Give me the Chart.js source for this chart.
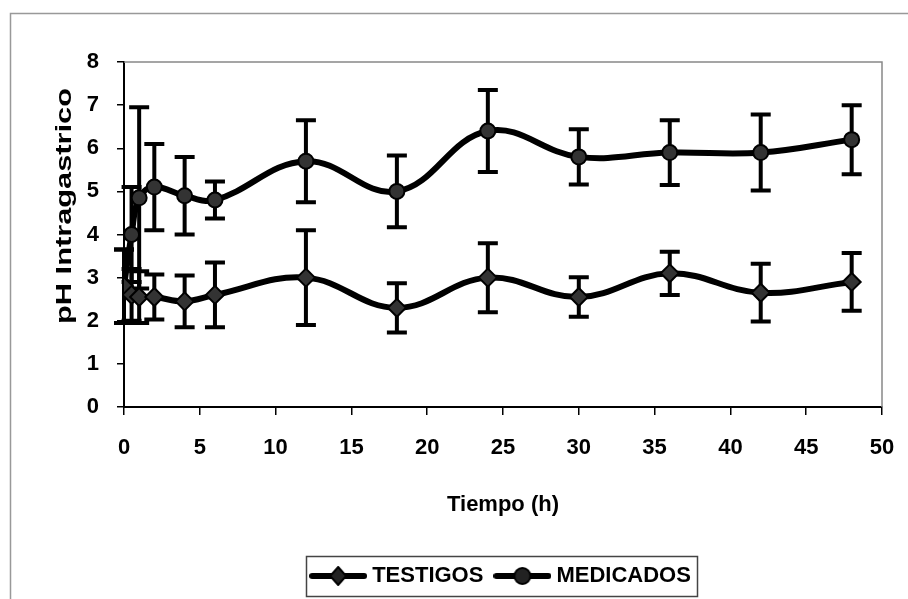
<!DOCTYPE html>
<html>
<head>
<meta charset="utf-8">
<script src="https://cdn.jsdelivr.net/npm/chart.js@4.4.1/dist/chart.umd.min.js"></script>
<style>
    html, body { margin: 0; padding: 0; background: #fff; }
    #wrap { width: 908px; height: 599px; position: relative; }
</style>
</head>
<body>
<div id="wrap"><canvas id="phChart" width="908" height="599"></canvas></div>
<script>
// Data
const hours = [0, 0.5, 1, 2, 4, 6, 12, 18, 24, 30, 36, 42, 48];
const testigos = [2.8, 2.6, 2.55, 2.55, 2.45, 2.6, 3.0, 2.3, 3.0, 2.55, 3.1, 2.65, 2.9];
const testigosErr = [0.85, 0.6, 0.6, 0.52, 0.6, 0.75, 1.1, 0.57, 0.8, 0.46, 0.5, 0.67, 0.67];
const medicados = [2.8, 4.0, 4.85, 5.1, 4.9, 4.8, 5.7, 5.0, 6.4, 5.8, 5.9, 5.9, 6.2];
const medicadosErr = [0.85, 1.1, 2.1, 1.0, 0.9, 0.43, 0.95, 0.83, 0.95, 0.64, 0.75, 0.88, 0.8];
const xTicks = [0, 5, 10, 15, 20, 25, 30, 35, 40, 45, 50];
const yTicks = [0, 1, 2, 3, 4, 5, 6, 7, 8];

const FONT = '"Liberation Sans Narrow", "Arial Narrow", "Liberation Sans", Arial, sans-serif';
const FONT_SIZE = 22;

// legend symbol: line with marker
function legendIcon(kind) {
    const c = document.createElement('canvas');
    c.width = 58;
    c.height = 20;
    const g = c.getContext('2d');
    g.strokeStyle = '#000';
    g.lineWidth = 6;
    g.lineCap = 'round';
    g.beginPath();
    g.moveTo(3, 10);
    g.lineTo(55, 10);
    g.stroke();
    g.fillStyle = '#222';
    g.lineWidth = 2;
    g.beginPath();
    if (kind === 'diamond') {
        g.moveTo(29, 1); g.lineTo(37, 10); g.lineTo(29, 19); g.lineTo(21, 10); g.closePath();
    } else {
        g.arc(29, 10, 8, 0, Math.PI * 2);
    }
    g.fill();
    g.stroke();
    return c;
}
const icons = [legendIcon('diamond'), legendIcon('circle')];

const toPoints = (vals) => vals.map((v, i) => ({ x: hours[i], y: v }));

// Error bars drawn through the chart scales
const errorBars = {
    id: 'errorBars',
    beforeDatasetsDraw(chart) {
        const { ctx, scales: { x, y } } = chart;
        ctx.save();
        ctx.strokeStyle = '#000';
        ctx.lineWidth = 4;
        chart.data.datasets.forEach(ds => {
            ds.data.forEach((pt, i) => {
                const e = ds.errors[i];
                const px = x.getPixelForValue(pt.x);
                const top = y.getPixelForValue(pt.y + e);
                const bot = y.getPixelForValue(pt.y - e);
                ctx.beginPath();
                ctx.moveTo(px, top); ctx.lineTo(px, bot);
                ctx.moveTo(px - 10, top); ctx.lineTo(px + 10, top);
                ctx.moveTo(px - 10, bot); ctx.lineTo(px + 10, bot);
                ctx.stroke();
            });
        });
        ctx.restore();
    }
};

// Plot frame (top/right), outer frame, legend box, rotated y title
const frame = {
    id: 'frame',
    beforeDraw(chart) {
        const { ctx } = chart;
        ctx.save();
        ctx.strokeStyle = '#999';
        ctx.lineWidth = 1.5;
        ctx.strokeRect(10.5, 13.5, 960, 700);
        ctx.restore();
    },
    afterDraw(chart) {
        const { ctx, chartArea: a } = chart;
        ctx.save();
        ctx.strokeStyle = '#888';
        ctx.lineWidth = 1.5;
        ctx.beginPath();
        ctx.moveTo(a.left, a.top);
        ctx.lineTo(a.right, a.top);
        ctx.lineTo(a.right, a.bottom);
        ctx.stroke();

        const boxes = chart.legend.legendHitBoxes;
        if (boxes && boxes.length) {
            const first = boxes[0], last = boxes[boxes.length - 1];
            const l = first.left - 9, r = last.left + last.width + 6;
            ctx.strokeStyle = '#444';
            ctx.strokeRect(Math.round(l) + 0.5, 556.5, Math.round(r - l), 40);
        }

        ctx.translate(65, 206);
        ctx.rotate(-Math.PI / 2);
        ctx.font = 'bold 22px "Liberation Sans", Arial, sans-serif';
        ctx.fillStyle = '#000';
        ctx.textAlign = 'center';
        ctx.textBaseline = 'middle';
        const label = 'pH Intragastrico';
        const w = ctx.measureText(label).width;
        ctx.scale(236 / w, 1);
        ctx.fillText(label, 0, 0);
        ctx.restore();
    }
};

const lineStyle = {
    borderColor: '#000',
    borderWidth: 6,
    showLine: true,
    tension: 0.4,
    pointRadius: 7.5,
    pointBorderColor: '#000',
    pointBorderWidth: 2,
    pointBackgroundColor: '#333'
};

new Chart(document.getElementById('phChart'), {
    type: 'scatter',
    data: {
        datasets: [
            Object.assign({
                label: 'TESTIGOS',
                data: toPoints(testigos),
                errors: testigosErr,
                pointStyle: 'rectRot'
            }, lineStyle, { pointRadius: 9 }),
            Object.assign({
                label: 'MEDICADOS',
                data: toPoints(medicados),
                errors: medicadosErr,
                pointStyle: 'circle'
            }, lineStyle)
        ]
    },
    options: {
        responsive: false,
        animation: false,
        layout: { padding: { left: 0, right: 26, top: 62, bottom: 2 } },
        plugins: {
            legend: {
                position: 'bottom',
                fullSize: false,
                labels: {
                    usePointStyle: true,
                    pointStyleWidth: 46,
                    padding: 16,
                    color: '#000',
                    font: { family: FONT, size: FONT_SIZE, weight: 'bold' },
                    generateLabels(chart) {
                        const items = Chart.defaults.plugins.legend.labels.generateLabels(chart);
                        items.forEach((it, i) => { it.pointStyle = icons[i]; });
                        return items;
                    }
                }
            },
            tooltip: { enabled: false }
        },
        scales: {
            x: {
                type: 'linear',
                min: 0,
                max: 50,
                afterFit(s) {
                    s.height = 142;
                    s.paddingLeft = 0;
                    s.paddingRight = 0;
                },
                afterBuildTicks(s) { s.ticks = xTicks.map(v => ({ value: v })); },
                border: { color: '#000', width: 2 },
                grid: { drawOnChartArea: false, drawTicks: true, tickLength: 8, color: '#000', lineWidth: 1.5 },
                ticks: { color: '#000', padding: 20, maxRotation: 0, font: { family: FONT, size: FONT_SIZE, weight: 'bold' } },
                title: {
                    display: true,
                    text: 'Tiempo (h)',
                    color: '#000',
                    padding: { top: 31, bottom: 31 },
                    font: { family: FONT, size: FONT_SIZE, weight: 'bold' }
                }
            },
            y: {
                min: 0,
                max: 8,
                afterFit(s) { s.width = 124; },
                afterBuildTicks(s) { s.ticks = yTicks.map(v => ({ value: v })); },
                border: { color: '#000', width: 2 },
                grid: { drawOnChartArea: false, drawTicks: true, tickLength: 7, color: '#000', lineWidth: 1.5 },
                ticks: { color: '#000', padding: 18, font: { family: FONT, size: FONT_SIZE, weight: 'bold' } }
            }
        }
    },
    plugins: [errorBars, frame]
});
</script>
</body>
</html>
